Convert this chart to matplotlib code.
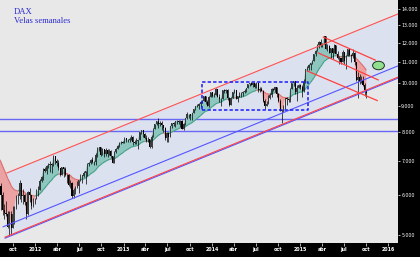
import numpy as np
import pandas as pd
import matplotlib
matplotlib.use('Agg')
import matplotlib.pyplot as plt
import matplotlib.dates as mdates
from matplotlib.collections import LineCollection
from matplotlib.path import Path
from matplotlib.ticker import FixedLocator, FuncFormatter, NullLocator

# DAX weekly candles (Friday closes), 2011-03-18 .. 2015-10-02
close = [
    # 2011
    6664, 6946, 7176, 7217, 7125, 7263, 7515, 7492, 7395, 7280, 7160, 7108, 7069, 7164,
    7121, 7419, 7420, 7220, 7344, 7158, 6236, 5997, 5602, 5538, 5504, 5190, 5508, 5164,
    5502, 5675, 5970, 5971, 6346, 5966, 5986, 5800, 5493, 6081, 5986, 5702, 5878, 5898,
    # 2012
    6057, 6143, 6404, 6511, 6766, 6693, 6849, 6864, 6921, 6880, 7157, 6996, 6947, 6775,
    6583, 6801, 6761, 6561, 6580, 6271, 6339, 5978, 6130, 6229, 6263, 6416, 6410, 6557,
    6630, 6689, 6918, 6944, 7040, 6971, 6970, 7214, 7412, 7451, 7216, 7398, 7233, 7380,
    7231, 7335, 7163, 6950, 7309, 7405, 7518, 7614, 7636, 7612,
    # 2013
    7776, 7715, 7702, 7760, 7833, 7638, 7593, 7661, 7708, 8004, 8058, 7912, 7795, 7659,
    7744, 7459, 7814, 8122, 8278, 8394, 8306, 8348, 8254, 8127, 7789, 7959, 7806, 8212,
    8331, 8276, 8403, 8416, 8366, 8416, 8103, 8275, 8510, 8676, 8665, 8591, 8725, 8869,
    9001, 9009, 9078, 9168, 9225, 9405, 9172, 9006, 9400, 9589,
    # 2014
    9435, 9473, 9742, 9392, 9306, 9301, 9662, 9656, 9692, 9350, 9056, 9342, 9588, 9695,
    9315, 9409, 9401, 9556, 9581, 9629, 9768, 9943, 9987, 9912, 9987, 9815, 10009, 9666,
    9720, 9644, 9210, 9009, 9092, 9339, 9470, 9747, 9691, 9799, 9490, 9195, 8812, 8850,
    8988, 9326, 9291, 9252, 9732, 9980, 10087, 9594, 9787, 9922,
    # 2015
    9806, 9648, 10032, 10649, 10694, 10846, 10963, 11050, 11401, 11551, 11901, 12040,
    11868, 11968, 12375, 11689, 11811, 11454, 11709, 11447, 11865, 11413, 11197, 11197,
    10985, 11492, 11058, 11316, 11673, 11347, 11308, 11490, 10985, 10124, 10298, 10038,
    10124, 9916, 9688, 9553,
]
high = [
    6890, 6970, 7190, 7240, 7230, 7290, 7527, 7600, 7520, 7400, 7300, 7290, 7170, 7180,
    7250, 7430, 7520, 7420, 7380, 7380, 7200, 6330, 6070, 5760, 5840, 5570, 5570, 5570,
    5700, 5700, 6000, 6050, 6430, 6350, 6160, 6030, 5800, 6120, 6190, 6000, 5920, 5920,
    6170, 6240, 6450, 6550, 6790, 6820, 6880, 6930, 6990, 6950, 7190, 7180, 7080, 7030,
    6800, 6810, 6830, 6830, 6600, 6590, 6430, 6380, 6190, 6250, 6400, 6430, 6590, 6580,
    6700, 6700, 6940, 6980, 7070, 7120, 7010, 7260, 7480, 7480, 7460, 7420, 7400, 7450,
    7390, 7390, 7350, 7170, 7320, 7440, 7550, 7630, 7680, 7670,
    7800, 7780, 7750, 7800, 7870, 7840, 7720, 7770, 7720, 8010, 8080, 8070, 7960, 7870,
    7810, 7760, 7880, 8130, 8290, 8420, 8530, 8420, 8400, 8270, 8190, 8000, 7990, 8230,
    8350, 8380, 8410, 8430, 8460, 8440, 8450, 8320, 8530, 8770, 8690, 8690, 8740, 8890,
    9010, 9080, 9110, 9190, 9250, 9410, 9410, 9270, 9410, 9600,
    9600, 9550, 9790, 9750, 9530, 9340, 9680, 9730, 9710, 9730, 9380, 9370, 9600, 9720,
    9700, 9440, 9610, 9610, 9640, 9750, 9780, 9960, 10010, 10050, 10000, 10010, 10050, 10030,
    9820, 9800, 9680, 9300, 9200, 9460, 9560, 9770, 9780, 9830, 9800, 9550, 9300, 8900,
    9060, 9340, 9400, 9350, 9760, 9990, 10090, 10090, 9890, 9950,
    9940, 9900, 10200, 10650, 10820, 10900, 10970, 11100, 11430, 11600, 11930, 12100,
    12220, 12020, 12390, 12380, 11960, 11890, 11750, 11720, 11920, 11870, 11570, 11300,
    11200, 11640, 11500, 11340, 11700, 11680, 11400, 11670, 11520, 11000, 10500, 10400,
    10340, 10340, 9990, 9700,
]
low = [
    6514, 6650, 6920, 7130, 7070, 7000, 7260, 7300, 7290, 7230, 7070, 7080, 7040, 6990,
    7080, 7090, 7350, 7100, 7120, 7100, 6200, 5610, 5470, 5370, 5450, 5170, 4966, 4990,
    5150, 5250, 5620, 5760, 5900, 5800, 5770, 5740, 5370, 5480, 5820, 5620, 5680, 5750,
    5880, 5960, 6130, 6370, 6420, 6650, 6600, 6780, 6670, 6620, 6850, 6900, 6840, 6720,
    6540, 6560, 6520, 6540, 6350, 6240, 6190, 5910, 5910, 6040, 6200, 6060, 6390, 6330,
    6520, 6310, 6540, 6840, 6900, 6940, 6870, 6870, 7130, 7330, 7180, 7210, 7150, 7180,
    7120, 7190, 7110, 6940, 6940, 7260, 7390, 7480, 7570, 7590,
    7590, 7650, 7640, 7650, 7700, 7550, 7560, 7580, 7410, 7700, 7940, 7830, 7750, 7630,
    7630, 7420, 7450, 7800, 8110, 8250, 8140, 8220, 8080, 8010, 7700, 7650, 7650, 7800,
    8160, 8200, 8170, 8300, 8300, 8190, 8100, 8080, 8270, 8490, 8540, 8460, 8430, 8710,
    8860, 8950, 8900, 8970, 9120, 9220, 9080, 9000, 8950, 9400,
    9400, 9380, 9460, 9360, 9150, 9010, 9300, 9550, 9560, 9240, 9020, 9050, 9320, 9560,
    9300, 9160, 9370, 9390, 9420, 9560, 9600, 9760, 9850, 9890, 9840, 9760, 9780, 9600,
    9600, 9630, 9170, 8900, 8990, 9070, 9300, 9400, 9650, 9590, 9400, 9170, 8800, 8350,
    8750, 8900, 9040, 9150, 9180, 9720, 9850, 9500, 9220, 9780,
    9750, 9380, 9600, 10000, 10550, 10620, 10630, 10880, 11030, 11290, 11550, 11740,
    11800, 11790, 11960, 11670, 11550, 11450, 11210, 11170, 11440, 11390, 11150, 10880,
    10900, 10980, 10900, 10650, 11300, 11310, 10990, 11230, 10860, 10090, 9340, 9960,
    9980, 9880, 9430, 9320,
]
first_friday = '2011-03-18'

# drawn lines: (dates, values)
channel_upper = (['2011-09-06', '2016-02-10'], [6635, 13700])
channel_lower = (['2011-08-29', '2016-02-10'], [4950, 10270])
channel_blue = (['2011-08-21', '2016-02-10'], [5190, 10810])
down_upper = (['2015-04-07', '2015-11-08'], [12330, 11100])
down_middle = (['2015-03-17', '2015-11-20'], [11470, 10140])
down_lower = (['2015-01-31', '2015-11-16'], [10560, 9230])
support_levels = [8490, 8030]
box_dates = ['2013-11-22', '2015-02-03']
box_values = [8850, 10050]
target = ('2015-11-20', 10830)

y_ticks = [5000, 6000, 7000, 8000, 9000, 10000, 11000, 12000, 13000, 14000]
month_names = {4: 'abr', 7: 'jul', 10: 'oct'}

plt.rcParams['font.family'] = 'DejaVu Sans'

cl = np.array(close, dtype=float)
hi = np.array(high, dtype=float)
lo = np.array(low, dtype=float)
op = np.concatenate([[cl[0]], cl[:-1]])
dates = pd.date_range(first_friday, periods=len(cl), freq='W-FRI')
xd = mdates.date2num(dates)
ema = pd.Series(cl).ewm(span=20, adjust=False).mean().values

fig = plt.figure(figsize=(4.2, 2.57), dpi=100, facecolor='black')
ax = fig.add_axes([0, 1 - 243/257, 398/420, 243/257])
ax.set_facecolor('#e8e8e8')
ax.set_yscale('log')

d = lambda s: mdates.date2num(pd.Timestamp(s))

# channel fill
ax.fill([d(channel_upper[0][0]), d(channel_upper[0][1]), d(channel_lower[0][1]), d(channel_lower[0][0])],
        [channel_upper[1][0], channel_upper[1][1], channel_lower[1][1], channel_lower[1][0]],
        color='#dce1ef', lw=0, zorder=1)

for lv in support_levels:
    ax.axhline(lv, color='#6868f4', lw=1.0, zorder=2)

# ema fill
above = cl >= ema
ax.fill_between(xd, cl, ema, where=above, interpolate=True, color='#8cc6be', lw=0, zorder=3)
ax.fill_between(xd, cl, ema, where=~above, interpolate=True, color='#eba2a2', lw=0, zorder=3)
pts = np.column_stack([xd, ema])
segs = np.stack([pts[:-1], pts[1:]], axis=1)
seg_cols = ['#3f9f82' if a else '#e06a6a' for a in above[1:]]
ax.add_collection(LineCollection(segs, colors=seg_cols, linewidths=0.8, zorder=4))

# candles
ax.vlines(xd, lo, hi, color='black', lw=0.5, zorder=5)
up = cl >= op
ax.bar(xd, np.abs(cl - op) + 1, bottom=np.minimum(op, cl), width=4.5,
       color=np.where(up, '#3a3a3a', '#000000'), lw=0, zorder=6)

# trend lines
def line(spec, **kw):
    ax.plot([d(s) for s in spec[0]], spec[1], **kw)

line(channel_upper, color='#ff5252', lw=0.8, zorder=7)
line(channel_blue, color='#5555ff', lw=0.8, zorder=7)
line((channel_lower[0], [v / 1.0046 for v in channel_lower[1]]), color='#5555ff', lw=0.8, zorder=7)
line(channel_lower, color='#ff4040', lw=0.8, zorder=7)
for spec in (down_upper, down_middle, down_lower):
    line(spec, color='#ff4040', lw=0.9, zorder=7)

bx = [d(box_dates[0]), d(box_dates[1]), d(box_dates[1]), d(box_dates[0]), d(box_dates[0])]
by = [box_values[0], box_values[0], box_values[1], box_values[1], box_values[0]]
ax.plot(bx, by, color='#1a1aff', lw=1.1, ls=(0, (2.2, 1.4)), zorder=8)

circ = Path.unit_circle()
ell = Path(circ.vertices * [1.4, 1.0], circ.codes)
ax.plot([d(target[0])], [target[1]], marker=ell, markersize=8.5, markerfacecolor='#90e090',
        markeredgecolor='#203020', markeredgewidth=0.7, zorder=9)

ax.text(0.034, 0.949, 'DAX', transform=ax.transAxes, color='#2a2ad0', fontsize=6.2,
        family='Liberation Serif', va='center', ha='left')
ax.text(0.034, 0.912, 'Velas semanales', transform=ax.transAxes, color='#2a2ad0', fontsize=6.2,
        family='Liberation Serif', va='center', ha='left')

ax.set_xlim(d('2011-08-08'), d('2016-02-10'))
ax.set_ylim(4820, 14600)

ax.yaxis.tick_right()
ax.yaxis.set_major_locator(FixedLocator(y_ticks))
ax.yaxis.set_minor_locator(NullLocator())
ax.yaxis.set_major_formatter(FuncFormatter(lambda v, p: f'{v/1000:.3f}'))
ax.tick_params(axis='y', colors='white', length=1.5, width=0.5, labelsize=3.4, pad=0.8)

qdates = pd.date_range('2011-10-01', '2016-01-01', freq='QS-JAN')
ax.set_xticks(mdates.date2num(qdates))
ax.set_xticklabels([str(q.year) if q.month == 1 else month_names[q.month] for q in qdates],
                   fontweight='bold')
ax.tick_params(axis='x', colors='white', length=2.0, width=0.5, labelsize=3.4, pad=1.0)
for s in ax.spines.values():
    s.set_visible(False)

fig.savefig('out.png', dpi=100, facecolor='black')
